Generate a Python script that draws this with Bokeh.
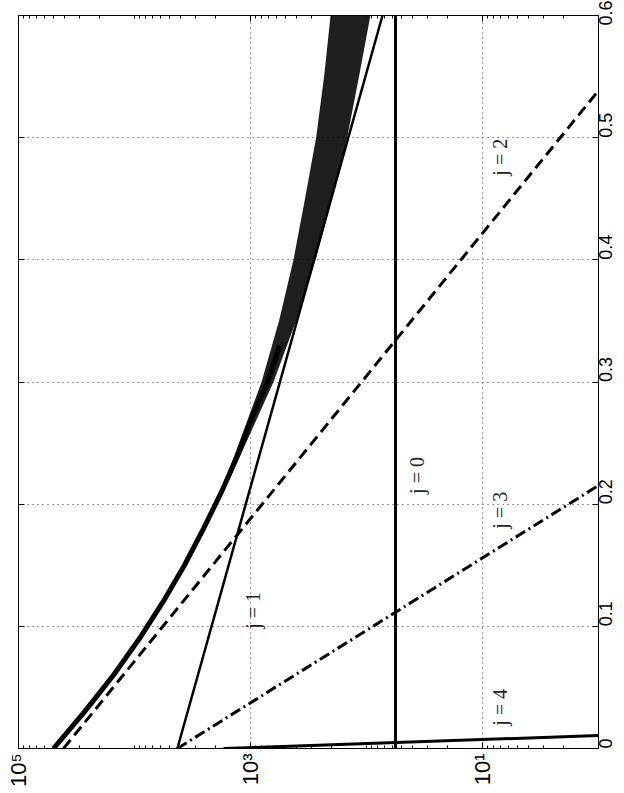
import math
from bokeh.plotting import figure
from bokeh.models import Range1d, LinearAxis, LogAxis, FixedTicker, ColumnDataSource
from bokeh.core.properties import value
from bokeh.embed import file_html
from bokeh.resources import INLINE

# ---- data (original chart: x linear 0..0.6, y log 1..1e5; drawn rotated) ----
x_ticks = [0, 0.1, 0.2, 0.3, 0.4, 0.5, 0.6]
x_tick_labels = ["0", "0.1", "0.2", "0.3", "0.4", "0.5", "0.6"]
y_major_ticks = [1e1, 1e3, 1e5]
y_major_labels = ["10\u00b9", "10\u00b3", "10\u2075"]
y_unlabeled_ticks = [1e2, 1e4]

# measured curve (dense part) : x vs y
curve_x = [0.0, 0.03, 0.06, 0.09, 0.12, 0.15, 0.18, 0.21, 0.24, 0.27, 0.30, 0.33]
curve_y = [49900, 27000, 15200, 9060, 5680, 3710, 2540, 1778, 1294, 980, 713, 560]

# scatter cloud envelope (upper / lower y) at given x
cloud_x = [0.22, 0.25, 0.3, 0.35, 0.4, 0.45, 0.5, 0.55, 0.6]
cloud_hi = [1643, 1256, 803, 568, 426, 339, 272, 232, 204]
cloud_lo = [1517, 1093, 634, 405, 275, 198, 147, 116, 92.5]

# j-lines: end points (x, y)
j0_x = [0.0, 0.6]
j0_y = [56.2, 56.2]
j1_x = [0.0, 0.6]
j1_y = [4270, 72.8]
j2_x = [0.0, 0.5385]
j2_y = [40900, 1.0]
j3_x = [0.0, 0.2153]
j3_y = [4270, 1.0]
j4_x = [0.0, 0.0106]
j4_y = [1710, 1.0]

label_x = [0.484, 0.2235, 0.113, 0.195, 0.0336]
label_y = [7.0, 36.4, 961, 7.0, 7.0]
label_text = ["j = 2", "j = 0", "j = 1", "j = 3", "j = 4"]

minor_log_ticks = [m * 10 ** k for k in range(0, 5) for m in range(2, 10)] + y_unlabeled_ticks

p = figure(frame_width=580, frame_height=733,
           x_axis_type="log", x_range=Range1d(1e5, 1e0), y_range=Range1d(0, 0.6),
           x_axis_location="below", y_axis_location="right",
           output_backend="svg", toolbar_location=None,
           min_border_left=18, min_border_top=15, min_border_right=2, min_border_bottom=2,
           background_fill_color="white", border_fill_color="white")
p.outline_line_color = "black"
p.outline_line_width = 1

# bottom (log) axis
xa = p.xaxis[0]
xa.ticker = FixedTicker(ticks=y_major_ticks, minor_ticks=minor_log_ticks)
xa.major_label_overrides = {t: l for t, l in zip(y_major_ticks, y_major_labels)}
xa.major_label_orientation = math.pi / 2
xa.major_label_text_font = "Liberation Sans"
xa.major_label_text_font_size = "22px"
xa.major_label_text_color = "black"
xa.major_tick_in = 6
xa.major_tick_out = 0
xa.minor_tick_in = 3
xa.minor_tick_out = 0
xa.axis_line_color = "black"
xa.major_label_standoff = 5

# right (linear) axis
ya = p.yaxis[0]
ya.ticker = FixedTicker(ticks=x_ticks)
ya.major_label_overrides = {t: l for t, l in zip(x_ticks, x_tick_labels)}
ya.major_label_orientation = math.pi / 2
ya.major_label_text_font = "Liberation Sans"
ya.major_label_text_font_size = "18px"
ya.major_label_text_color = "black"
ya.major_tick_in = 6
ya.major_tick_out = 0
ya.minor_tick_in = 0
ya.minor_tick_out = 0
ya.axis_line_color = "black"
ya.major_label_standoff = 7

# mirrored axes (ticks only)
top = LogAxis(ticker=FixedTicker(ticks=y_major_ticks, minor_ticks=minor_log_ticks),
              major_label_overrides={t: "" for t in y_major_ticks}, major_label_standoff=0,
              major_tick_in=6, major_tick_out=0, minor_tick_in=3, minor_tick_out=0,
              axis_line_color="black")
p.add_layout(top, "above")
left = LinearAxis(ticker=FixedTicker(ticks=x_ticks),
                  major_label_overrides={t: "" for t in x_ticks}, major_label_standoff=0,
                  major_tick_in=6, major_tick_out=0, minor_tick_in=0, minor_tick_out=0,
                  axis_line_color="black")
p.add_layout(left, "left")

for g in (p.xgrid[0], p.ygrid[0]):
    g.grid_line_color = "black"
    g.grid_line_dash = "1 4"
    g.grid_line_width = 1
    g.grid_line_alpha = 0.8

# scatter cloud band
p.harea(y=cloud_x, x1=cloud_lo, x2=cloud_hi, fill_color="black", fill_alpha=0.88)
# dense measured curve
p.line(curve_y, curve_x, line_color="black", line_width=5)

p.line(j0_y, j0_x, line_color="black", line_width=3)
p.line(j1_y, j1_x, line_color="black", line_width=2.5)
p.line(j2_y, j2_x, line_color="black", line_width=3, line_dash="11 6")
p.line(j3_y, j3_x, line_color="black", line_width=3, line_dash="11 4 2 4")
p.line(j4_y, j4_x, line_color="black", line_width=3)

src = ColumnDataSource(dict(x=label_y, y=label_x, t=label_text))
p.text(x="x", y="y", text="t", source=src, angle=math.pi / 2,
       text_font=value("Liberation Serif"), text_font_size="20px",
       text_align="center", text_baseline="middle", text_color="#222222")

open("out.html", "w").write(file_html(p, INLINE))
